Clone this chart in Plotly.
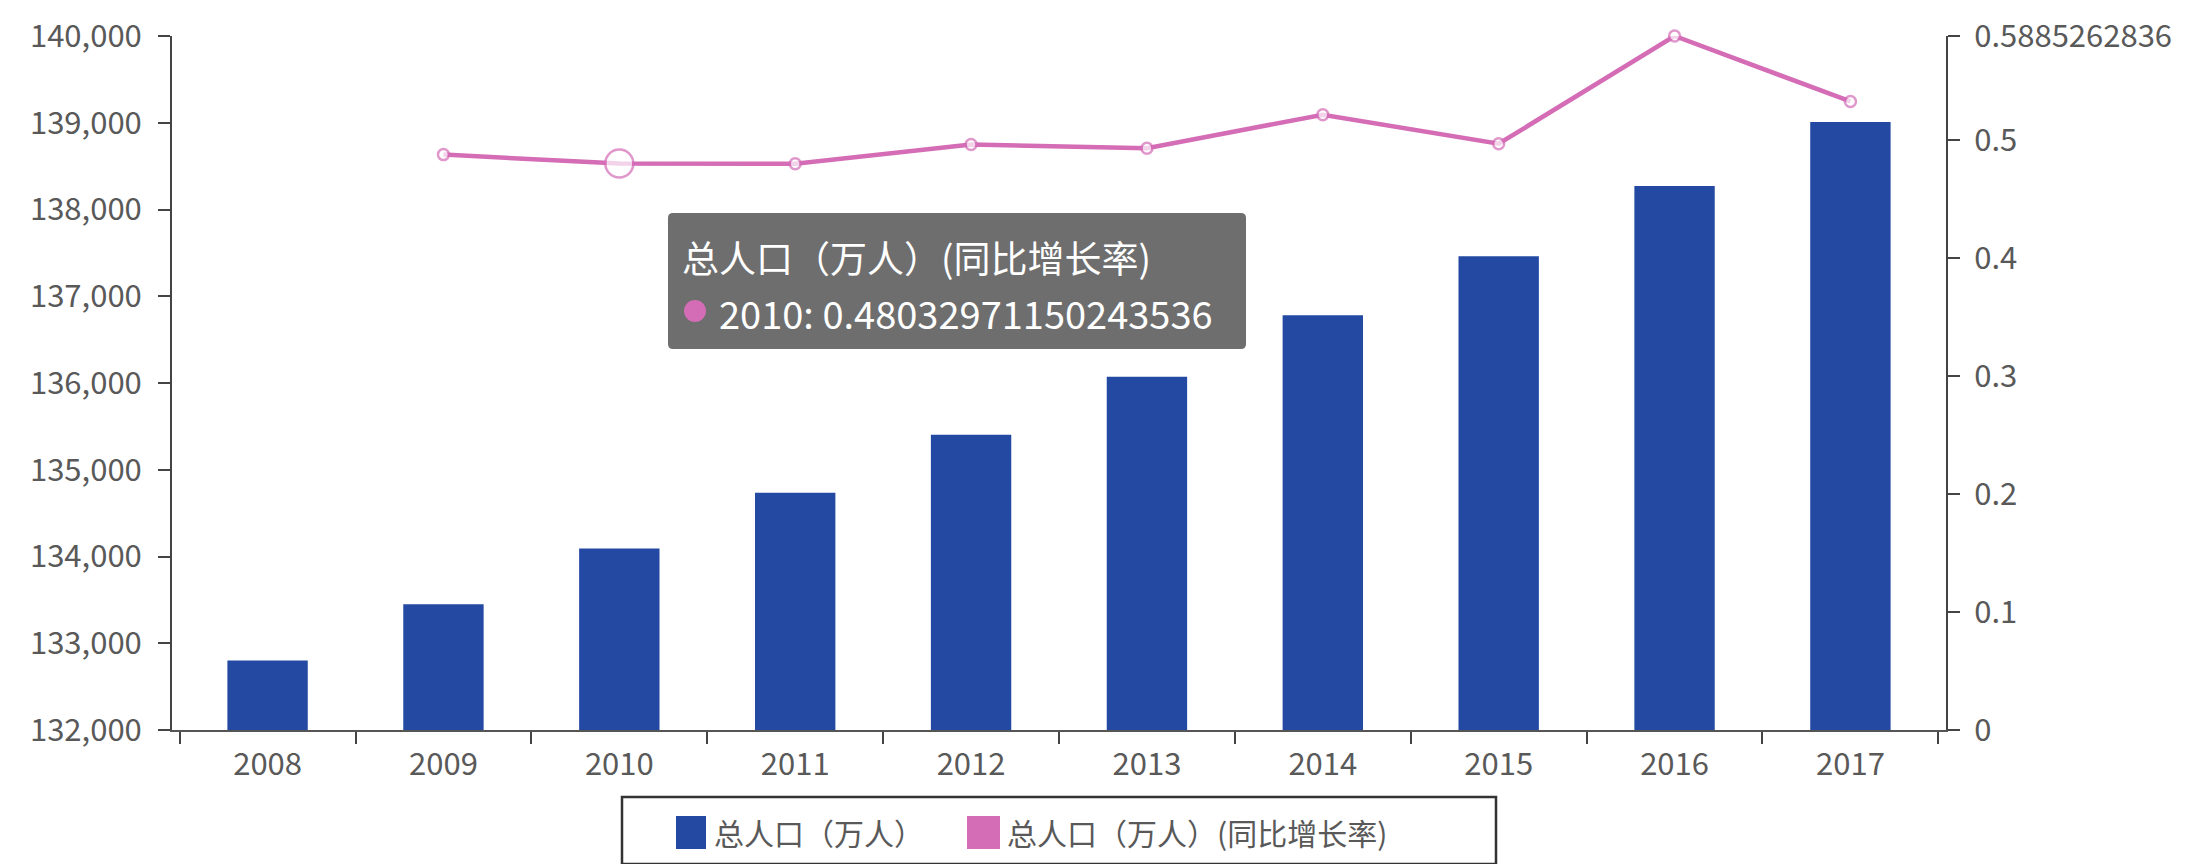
import plotly.graph_objects as go

years = ["2008", "2009", "2010", "2011", "2012", "2013", "2014", "2015", "2016", "2017"]
population = [132802, 133450, 134091, 134735, 135404, 136072, 136782, 137462, 138271, 139008]
growth_rate = [None, 0.48794, 0.48032971150243536, 0.48027, 0.49653, 0.49334,
               0.52178, 0.49714, 0.5885262836, 0.53301]
left_ticks = [132000, 133000, 134000, 135000, 136000, 137000, 138000, 139000, 140000]
right_ticks = [0, 0.1, 0.2, 0.3, 0.4, 0.5, 0.5885262836]
right_labels = ["0", "0.1", "0.2", "0.3", "0.4", "0.5", "0.5885262836"]
bar_name = "总人口（万人）"
line_name = "总人口（万人）(同比增长率)"
highlight_year = "2010"

BLUE = "#2349a3"
PINK = "#d46cb6"
FONT = "Noto Sans CJK SC"
GREY = "#595959"

W, H = 2189, 864
PL, PR, PT, PB = 164, 1938, 28, 722


def px(x):
    return (x - PL) / (PR - PL)


def py(y):
    return (PB - y) / (PB - PT)


def rr_path(x0, y0, x1, y1, r):
    pts = [("M", [(x0 + r, y0)]), ("L", [(x1 - r, y0)]), ("Q", [(x1, y0), (x1, y0 + r)]),
           ("L", [(x1, y1 - r)]), ("Q", [(x1, y1), (x1 - r, y1)]), ("L", [(x0 + r, y1)]),
           ("Q", [(x0, y1), (x0, y1 - r)]), ("L", [(x0, y0 + r)]), ("Q", [(x0, y0), (x0 + r, y0)])]
    s = ""
    for cmd, ps in pts:
        s += cmd + " " + " ".join(f"{px(a):.6f},{py(b):.6f}" for a, b in ps) + " "
    return s + "Z"


sizes = [28 if y == highlight_year else 11 for y in years]

fig = go.Figure()
fig.add_trace(go.Bar(x=years, y=population, name=bar_name, marker=dict(color=BLUE, line=dict(width=0)),
                     showlegend=False))
fig.add_trace(go.Scatter(x=years, y=growth_rate, name=line_name, yaxis="y2", mode="lines+markers",
                         line=dict(color=PINK, width=4.5),
                         marker=dict(size=sizes, color="white", line=dict(color=PINK, width=2.5)),
                         cliponaxis=False, showlegend=False))

shapes = []
annotations = []

# tooltip box
shapes.append(dict(type="path", xref="paper", yref="paper", path=rr_path(660, 205, 1238, 341, 5),
                   fillcolor="#6e6e6e", line=dict(width=0), layer="above"))
shapes.append(dict(type="circle", xref="paper", yref="paper", x0=px(676), x1=px(698), y0=py(314), y1=py(292),
                   fillcolor=PINK, line=dict(width=0), layer="above"))
annotations.append(dict(xref="paper", yref="paper", x=px(672), y=py(249), xanchor="left", yanchor="middle",
                        text=line_name, showarrow=False, font=dict(family=FONT, size=37, color="white")))
annotations.append(dict(xref="paper", yref="paper", x=px(709), y=py(304), xanchor="left", yanchor="middle",
                        text=f"{highlight_year}: {growth_rate[years.index(highlight_year)]}", showarrow=False,
                        font=dict(family=FONT, size=38, color="white")))

# legend
shapes.append(dict(type="rect", xref="paper", yref="paper", x0=px(614), x1=px(1488), y0=py(856), y1=py(789),
                   fillcolor="white", line=dict(color="#333333", width=2.5)))
shapes.append(dict(type="rect", xref="paper", yref="paper", x0=px(668), x1=px(698), y0=py(841), y1=py(808),
                   fillcolor=BLUE, line=dict(width=0)))
shapes.append(dict(type="rect", xref="paper", yref="paper", x0=px(959), x1=px(992), y0=py(841), y1=py(808),
                   fillcolor=PINK, line=dict(width=0)))
annotations.append(dict(xref="paper", yref="paper", x=px(704), y=py(824), xanchor="left", yanchor="middle",
                        text=bar_name, showarrow=False, font=dict(family=FONT, size=30, color=GREY)))
annotations.append(dict(xref="paper", yref="paper", x=px(997), y=py(824), xanchor="left", yanchor="middle",
                        text=line_name, showarrow=False, font=dict(family=FONT, size=30, color=GREY)))

axis_font = dict(family=FONT, size=31, color=GREY)
fig.update_layout(
    width=W, height=H,
    margin=dict(l=PL, r=W - PR, t=PT, b=H - PB, autoexpand=False),
    paper_bgcolor="white", plot_bgcolor="white",
    bargap=0.543,
    font=dict(family=FONT),
    xaxis=dict(type="category", tickson="boundaries", ticks="outside", ticklen=12, tickwidth=2,
               tickcolor="#444444", showline=True, linecolor="#555555", linewidth=2, showgrid=False,
               tickfont=axis_font, ticklabelstandoff=6),
    yaxis=dict(range=[132000, 140000], tickvals=left_ticks, tickformat=",", ticks="outside", ticklen=12,
               tickwidth=2, tickcolor="#444444", showline=True, linecolor="#444444", linewidth=2,
               showgrid=False, zeroline=False, tickfont=axis_font, ticklabelstandoff=10),
    yaxis2=dict(range=[0, 0.5885262836], overlaying="y", side="right", tickvals=right_ticks,
                ticktext=right_labels, ticks="outside", ticklen=12, tickwidth=2, tickcolor="#444444",
                showline=True, linecolor="#444444", linewidth=2, showgrid=False, zeroline=False,
                tickfont=axis_font, ticklabelstandoff=8),
    shapes=shapes,
    annotations=annotations,
)

fig.write_html("out.html")
